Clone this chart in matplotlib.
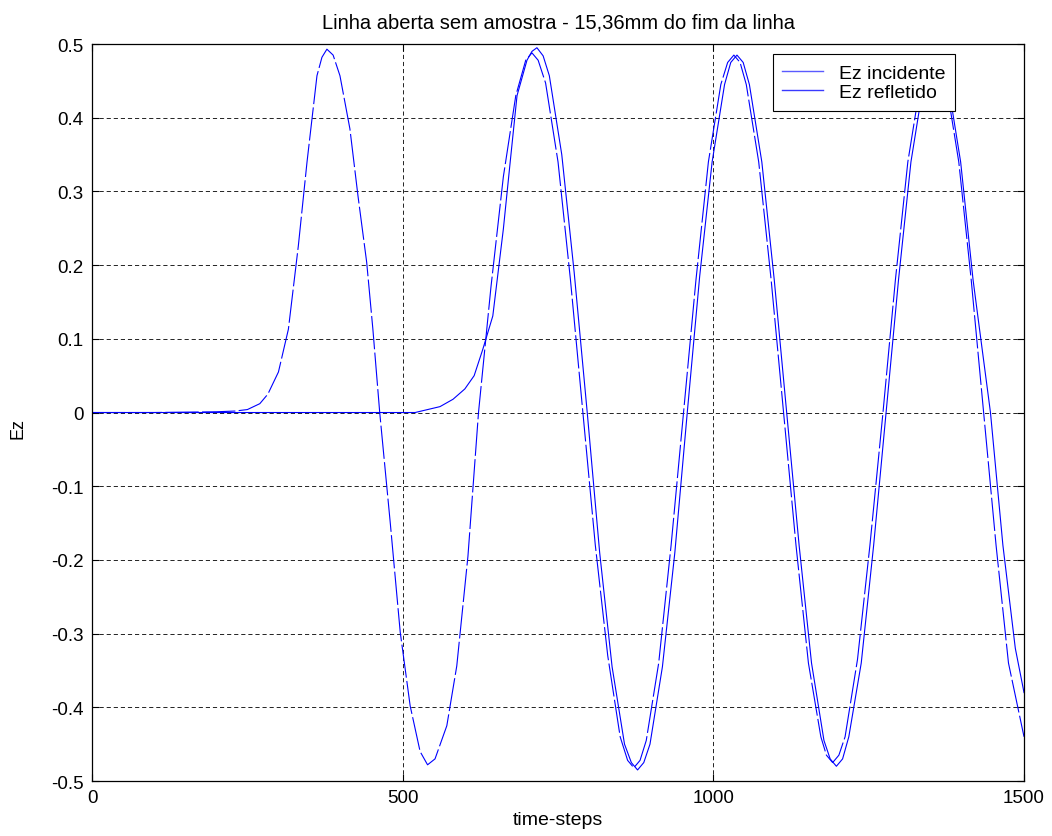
import numpy as np
import matplotlib
matplotlib.use('Agg')
import matplotlib.pyplot as plt
from matplotlib.lines import Line2D

plt.rcParams['font.family'] = ['Liberation Sans', 'DejaVu Sans']

# Ez incidente
t_inc = [0, 100, 200, 230, 250, 270, 283, 300, 316, 332, 346, 362, 370, 378, 388, 399, 415,
         428, 442, 452, 463, 480, 496, 512, 528, 540, 552, 571, 587, 605, 622, 642, 662, 682,
         698, 708, 718, 730, 750, 770, 790, 810, 830, 850, 862, 872, 882, 892, 912, 932, 952,
         972, 992, 1012, 1023, 1033, 1043, 1053, 1073, 1093, 1113, 1133, 1153, 1173, 1182,
         1192, 1202, 1212, 1232, 1252, 1273, 1293, 1313, 1333, 1345, 1355, 1365, 1375, 1395,
         1415, 1435, 1455, 1475, 1500]
ez_inc = [0.0, 0.0, 0.001, 0.002, 0.004, 0.012, 0.025, 0.055, 0.113, 0.226, 0.34, 0.457, 0.482,
          0.493, 0.485, 0.457, 0.385, 0.294, 0.204, 0.113, 0.0, -0.15, -0.298, -0.398, -0.46,
          -0.478, -0.47, -0.425, -0.344, -0.195, 0.0, 0.17, 0.32, 0.43, 0.478, 0.488, 0.478,
          0.447, 0.34, 0.18, 0.0, -0.18, -0.33, -0.44, -0.472, -0.482, -0.472, -0.445, -0.34,
          -0.18, 0.0, 0.18, 0.34, 0.445, 0.475, 0.485, 0.475, 0.445, 0.34, 0.18, 0.0, -0.18,
          -0.34, -0.44, -0.465, -0.475, -0.465, -0.44, -0.335, -0.18, 0.0, 0.18, 0.34, 0.445,
          0.472, 0.482, 0.472, 0.445, 0.34, 0.18, 0.0, -0.18, -0.34, -0.44]

# Ez refletido
t_ref = [0, 200, 400, 520, 540, 560, 581, 600, 615, 629, 645, 662, 673, 684, 700, 708, 716, 726,
         736, 756, 776, 797, 817, 837, 857, 868, 878, 888, 898, 918, 938, 958, 978, 998, 1018,
         1028, 1038, 1048, 1058, 1078, 1098, 1118, 1138, 1158, 1178, 1188, 1198, 1208, 1218,
         1238, 1258, 1278, 1298, 1318, 1338, 1348, 1358, 1368, 1378, 1398, 1418, 1446, 1466,
         1486, 1500]
ez_ref = [0.0, 0.0, 0.0, 0.0, 0.004, 0.008, 0.018, 0.032, 0.05, 0.086, 0.131, 0.249, 0.34, 0.43,
          0.478, 0.49, 0.495, 0.484, 0.457, 0.35, 0.19, 0.0, -0.19, -0.345, -0.45, -0.475,
          -0.485, -0.475, -0.45, -0.345, -0.19, 0.0, 0.185, 0.34, 0.445, 0.475, 0.485, 0.475,
          0.445, 0.34, 0.18, 0.0, -0.18, -0.34, -0.445, -0.47, -0.48, -0.47, -0.44, -0.34,
          -0.18, 0.0, 0.18, 0.34, 0.445, 0.47, 0.48, 0.47, 0.445, 0.34, 0.18, 0.0, -0.18,
          -0.32, -0.38]

xticks = [0, 500, 1000, 1500]
yticks = np.round(np.arange(-0.5, 0.51, 0.1), 1)
ytick_labels = ['-0.5', '-0.4', '-0.3', '-0.2', '-0.1', '0', '0.1', '0.2', '0.3', '0.4', '0.5']

fig = plt.figure(figsize=(10.52, 8.37), dpi=100)
ax = fig.add_axes([0.0875, 0.0657, 0.8859, 0.8805])

ax.plot(t_inc, ez_inc, color='#0000ff', lw=0.8, linestyle=(0, (30, 3)))
ax.plot(t_ref, ez_ref, color='#0000ff', lw=0.8)

ax.set_xlim(0, 1500)
ax.set_ylim(-0.5, 0.5)
ax.set_xticks(xticks)
ax.set_yticks(yticks)
ax.set_yticklabels(ytick_labels)
ax.tick_params(direction='in', top=True, right=True, labelsize=13.5, length=5, width=0.8, pad=6)
ax.grid(True, color='black', linestyle=(0, (5, 3.5)), linewidth=0.6)
for s in ax.spines.values():
    s.set_linewidth(0.9)

ax.set_title('Linha aberta sem amostra - 15,36mm do fim da linha', fontsize=14.5, pad=12)
ax.set_xlabel('time-steps', fontsize=14, labelpad=3)
ax.set_ylabel('Ez', fontsize=13)
ax.yaxis.set_label_coords(-0.07, 0.48)

handles = [Line2D([], [], color='#5a5aff', lw=1.0), Line2D([], [], color='#3a3aff', lw=1.0)]
leg = ax.legend(handles, ['Ez incidente', 'Ez refletido'], loc='upper right',
                bbox_to_anchor=(0.926, 0.986), borderaxespad=0, fontsize=14,
                fancybox=False, framealpha=1, edgecolor='black', handlelength=2.1,
                handletextpad=0.8, labelspacing=0.1, borderpad=0.5)
leg.get_frame().set_linewidth(0.8)

fig.savefig('out.png', dpi=100)
